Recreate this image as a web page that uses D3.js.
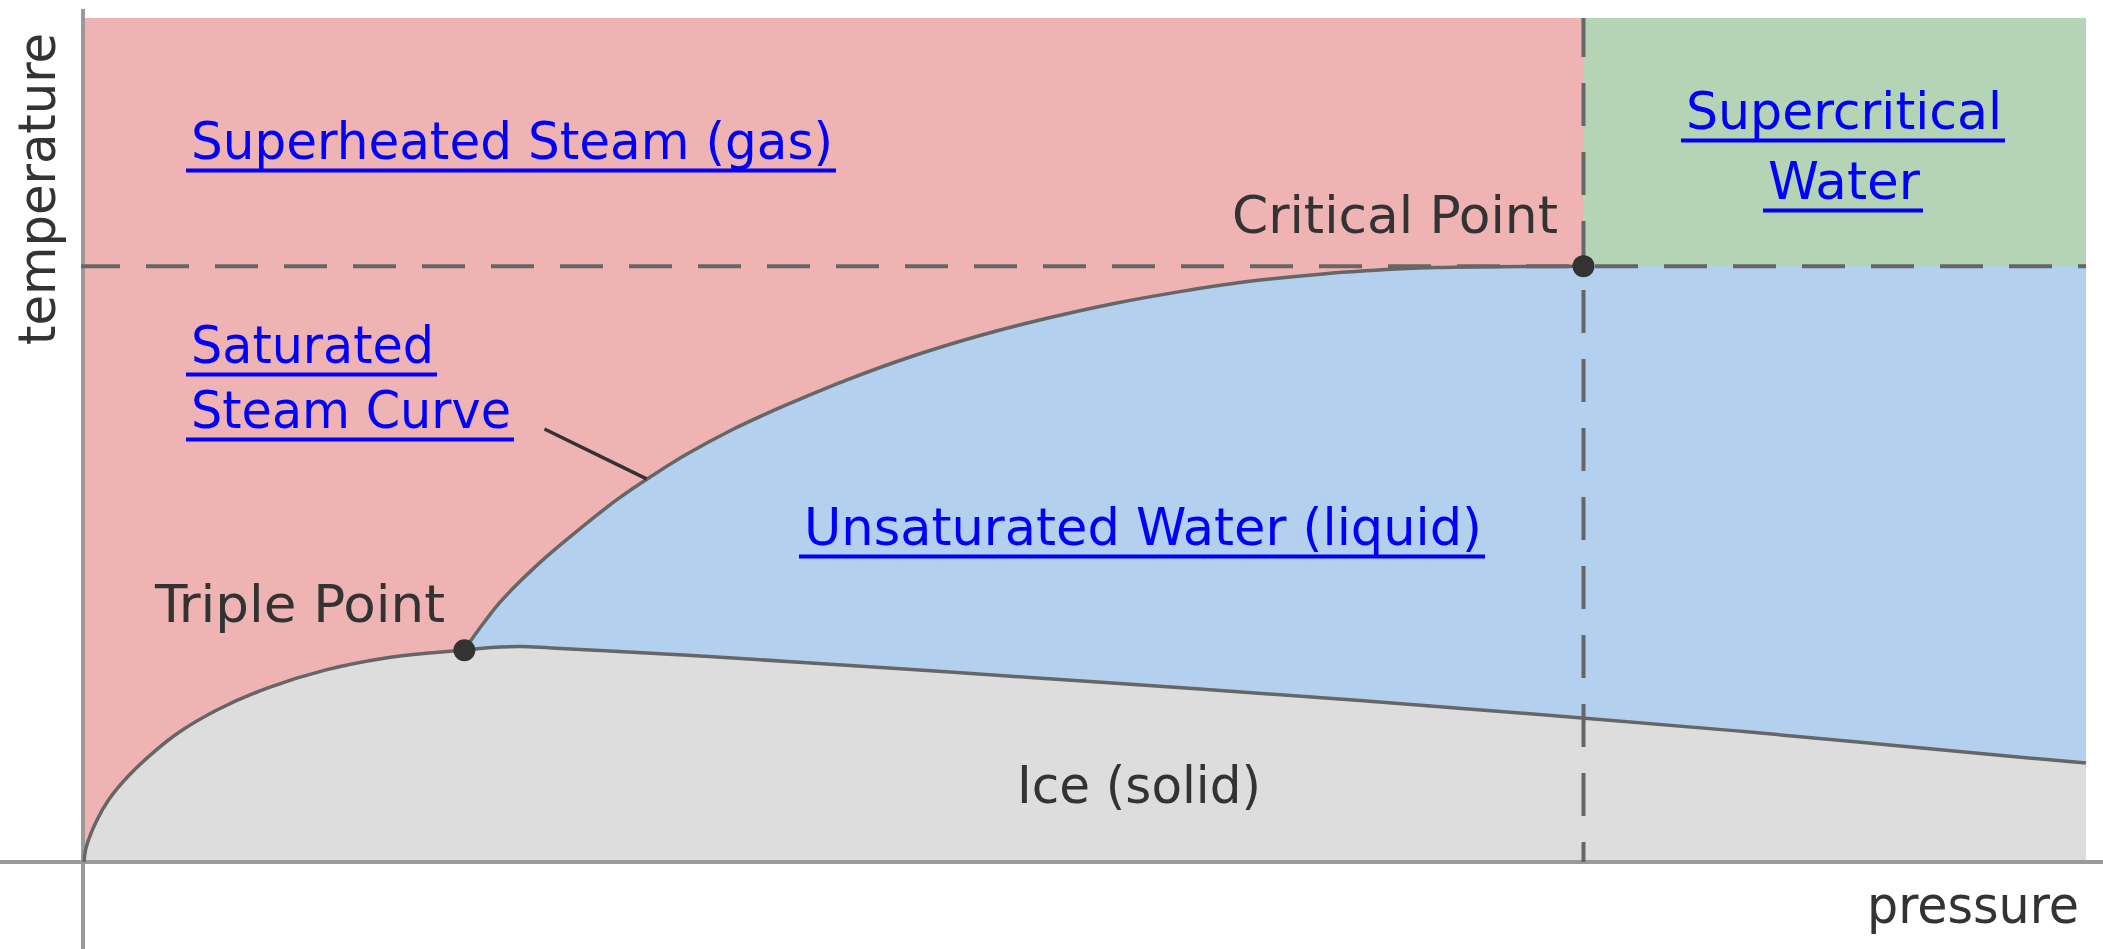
<!DOCTYPE html>
<html>
<head>
<meta charset="utf-8">
<script src="https://cdn.jsdelivr.net/npm/d3@7"></script>
<style>
  html, body { margin: 0; padding: 0; background: #ffffff; }
  svg { display: block; }
  text { font-family: "DejaVu Sans Condensed", "DejaVu Sans", sans-serif; font-stretch: condensed; font-size: 52px; }
</style>
</head>
<body>
<svg id="chart" width="2103" height="949"></svg>
<script>
// ---------------- DATA (abstract units: pressure 0..100, temperature 0..100) ----------------
const pressureDomain = [0, 100];
const temperatureDomain = [0, 100];

// solid / gas boundary (sublimation curve), origin -> triple point
const sublimationCurve = [
  [0, 0], [0.10, 1.66], [0.60, 4.74], [1.25, 7.43], [2.25, 10.27], [3.60, 13.26],
  [4.75, 15.38], [6.74, 18.13], [9.19, 20.63], [12.09, 22.76], [14.99, 24.14],
  [17.23, 24.77], [19.0, 25.1]
];

// liquid / gas boundary (saturated steam curve), triple point -> critical point
const vaporizationCurve = [
  [19.0, 25.1], [19.43, 26.61], [20.13, 28.85], [20.78, 30.78], [21.68, 33.02],
  [22.78, 35.50], [23.48, 36.95], [26.62, 42.93], [28.42, 45.83], [30.12, 48.33],
  [32.42, 51.27], [34.12, 53.16], [35.61, 54.69], [38.11, 57.12], [41.41, 59.95],
  [44.76, 62.38], [48.10, 64.42], [51.40, 66.15], [54.75, 67.58], [57.74, 68.65],
  [61.89, 69.68], [65.58, 70.25], [67.58, 70.44], [74.9, 70.6]
];

// solid / liquid boundary (melting curve), triple point -> right edge
const fusionCurve = [
  [19.0, 25.1], [20.33, 25.41], [21.78, 25.53], [23.33, 25.36], [26.27, 25.0],
  [30.77, 24.41], [35.91, 23.64], [43.26, 22.51], [49.50, 21.50], [55.74, 20.50],
  [63.74, 19.14], [74.83, 17.06], [82.92, 15.46], [89.91, 13.92], [96.60, 12.44],
  [100, 11.73]
];

const specialPoints = [
  { name: "Triple Point", p: 19.0, t: 25.1 },
  { name: "Critical Point", p: 74.9, t: 70.6 }
];

// leader line from "Saturated Steam Curve" label to the curve
const leaderLine = [[23.0, 51.3], [28.1, 45.4]];

const axisTitles = { x: "pressure", y: "temperature" };

// ---------------- LAYOUT ----------------
const W = 2103, H = 949;
const plot = { left: 84, right: 2086, top: 18, bottom: 862 };
const colors = {
  gas: "#f0b3b3", supercritical: "#b5d3b5", liquid: "#b3d0ee", solid: "#dddddd",
  curve: "#666666", dash: "#666666", dot: "#333333", text: "#333333", link: "#0000ff", axis: "#9a9a9a"
};

const svg = d3.select("#chart");
const x = d3.scaleLinear().domain(pressureDomain).range([plot.left, plot.right]);
const y = d3.scaleLinear().domain(temperatureDomain).range([plot.bottom, plot.top]);

const curveLine = d3.line().x(d => x(d[0])).y(d => y(d[1])).curve(d3.curveCatmullRom.alpha(0.5));
const straight = d3.line().x(d => x(d[0])).y(d => y(d[1]));

// join several path strings into one continuous path
function joinPaths(parts) {
  return parts.map((s, i) => i === 0 ? s : s.replace(/^M/, "L")).join("");
}

const pMax = pressureDomain[1], tMax = temperatureDomain[1];
const crit = specialPoints[1];

// background: liquid colour over whole plot
svg.append("rect")
  .attr("x", x(0)).attr("y", y(tMax))
  .attr("width", x(pMax) - x(0)).attr("height", y(0) - y(tMax))
  .attr("fill", colors.liquid);

// gas region (above sublimation + vaporization, left of critical pressure)
svg.append("path")
  .attr("d", joinPaths([
    straight([[0, tMax], [0, sublimationCurve[0][1]]]),
    curveLine(sublimationCurve),
    curveLine(vaporizationCurve),
    straight([[crit.p, crit.t], [crit.p, tMax], [0, tMax]])
  ]) + "Z")
  .attr("fill", colors.gas);

// supercritical region
svg.append("rect")
  .attr("x", x(crit.p)).attr("y", y(tMax))
  .attr("width", x(pMax) - x(crit.p)).attr("height", y(crit.t) - y(tMax))
  .attr("fill", colors.supercritical);

// solid region (below sublimation + fusion)
svg.append("path")
  .attr("d", joinPaths([
    straight([[0, 0], [0, sublimationCurve[0][1]]]),
    curveLine(sublimationCurve),
    curveLine(fusionCurve),
    straight([[pMax, fusionCurve[fusionCurve.length - 1][1]], [pMax, 0], [0, 0]])
  ]) + "Z")
  .attr("fill", colors.solid);

// axes (no ticks), extended like the reference
svg.append("line")
  .attr("x1", 0).attr("x2", W).attr("y1", y(0)).attr("y2", y(0))
  .attr("stroke", colors.axis).attr("stroke-width", 4);
svg.append("line")
  .attr("x1", x(0) - 1).attr("x2", x(0) - 1).attr("y1", 9).attr("y2", H)
  .attr("stroke", colors.axis).attr("stroke-width", 4);

// dashed critical lines
svg.append("line")
  .attr("x1", x(0) - 3).attr("x2", x(pMax)).attr("y1", y(crit.t)).attr("y2", y(crit.t))
  .attr("stroke", colors.dash).attr("stroke-width", 4)
  .attr("stroke-dasharray", "43,26").attr("stroke-dashoffset", 4);
svg.append("line")
  .attr("x1", x(crit.p)).attr("x2", x(crit.p)).attr("y1", y(tMax)).attr("y2", y(0))
  .attr("stroke", colors.dash).attr("stroke-width", 4)
  .attr("stroke-dasharray", "43,26").attr("stroke-dashoffset", 4);

// phase boundary curves
[sublimationCurve, vaporizationCurve, fusionCurve].forEach(c => {
  svg.append("path").attr("d", curveLine(c))
    .attr("fill", "none").attr("stroke", colors.curve).attr("stroke-width", 3.5);
});

// leader line
svg.append("path").attr("d", straight(leaderLine))
  .attr("fill", "none").attr("stroke", colors.text).attr("stroke-width", 3.5);

// special points
svg.selectAll("circle.pt").data(specialPoints).enter().append("circle")
  .attr("class", "pt")
  .attr("cx", d => x(d.p)).attr("cy", d => y(d.t)).attr("r", 11)
  .attr("fill", colors.dot);

// ---------------- LABELS ----------------
function label(txt, px, py, anchor, len, link) {
  const t = svg.append("text")
    .attr("x", px).attr("y", py)
    .attr("text-anchor", anchor)
    .attr("textLength", len).attr("lengthAdjust", "spacingAndGlyphs")
    .attr("fill", link ? colors.link : colors.text)
    .text(txt);
  if (link) {
    const start = anchor === "start" ? px : anchor === "middle" ? px - len / 2 : px - len;
    svg.append("line")
      .attr("x1", start - 5).attr("x2", start + len + 3)
      .attr("y1", py + 11.5).attr("y2", py + 11.5)
      .attr("stroke", colors.link).attr("stroke-width", 4);
  }
  return t;
}

label("Superheated Steam (gas)", 191, 159, "start", 642, true);
label("Saturated", 191, 363, "start", 243, true);
label("Steam Curve", 191, 428, "start", 320, true);
label("Supercritical", 1844, 129, "middle", 316, true);
label("Water", 1844, 199, "middle", 152, true);
label("Unsaturated Water (liquid)", 804, 545, "start", 678, true);
label(specialPoints[1].name, 1558, 233, "end", 326, false);
label(specialPoints[0].name, 155, 622, "start", 290, false);
label("Ice (solid)", 1017, 803, "start", 244, false);
label(axisTitles.x, 1867, 923, "start", 212, false);
svg.append("text")
  .attr("transform", "translate(55,33) rotate(-90)")
  .attr("text-anchor", "end")
  .attr("textLength", 312).attr("lengthAdjust", "spacingAndGlyphs")
  .attr("fill", colors.text)
  .text(axisTitles.y);
</script>
</body>
</html>
